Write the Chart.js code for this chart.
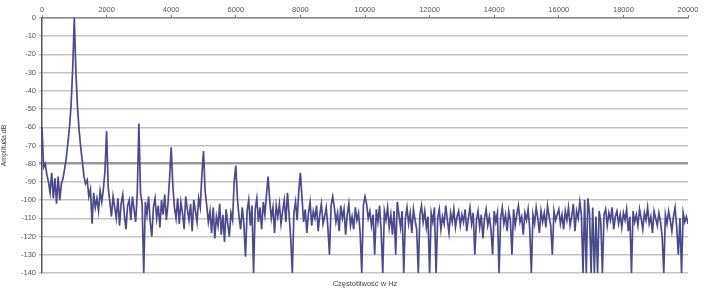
<!DOCTYPE html>
<html><head><meta charset="utf-8">
<script src="https://cdn.jsdelivr.net/npm/chart.js@4.4.1/dist/chart.umd.min.js"></script>
<style>html,body{margin:0;padding:0;background:#fff;}#wrap{width:705px;height:288px;}</style>
</head><body><div id="wrap"><canvas id="c" width="705" height="288"></canvas></div>
<script>
const freqStep = 50;
const levels = [
-60,-82,-80,-86,-90,-96,-85,-99,-88,-102,-87,-100,-91,-88,-83,-77,-69,-60,-48,-28,
0,-30,-49,-62,-71,-79,-87,-91,-89,-98,-94,-113,-96,-104,-99,-106,-95,-101,-94,-84,
-62,-93,-101,-109,-98,-104,-110,-99,-114,-102,-97,-108,-116,-103,-100,-111,-98,-105,-112,-96,
-58,-96,-102,-140,-101,-108,-98,-112,-120,-104,-99,-110,-103,-115,-100,-108,-97,-111,-102,-88,
-71,-92,-104,-110,-99,-113,-101,-107,-116,-98,-105,-111,-102,-117,-100,-106,-112,-99,-104,-86,
-73,-95,-103,-112,-106,-118,-104,-121,-109,-114,-102,-119,-108,-123,-105,-113,-120,-107,-111,-90,
-81,-99,-109,-116,-104,-113,-131,-106,-100,-114,-103,-140,-105,-99,-112,-104,-116,-101,-108,-97,
-87,-100,-110,-104,-118,-103,-109,-102,-113,-106,-100,-112,-96,-108,-121,-140,-107,-101,-111,-95,
-85,-99,-112,-105,-118,-107,-101,-114,-106,-110,-103,-117,-108,-102,-113,-109,-104,-115,-130,-103,
-98,-104,-112,-107,-117,-103,-110,-105,-119,-108,-102,-114,-109,-116,-104,-111,-107,-118,-140,-103,
-98,-102,-110,-106,-114,-108,-130,-105,-112,-103,-117,-140,-106,-111,-104,-115,-108,-119,-106,-130,
-101,-108,-115,-106,-140,-110,-104,-113,-107,-118,-105,-111,-116,-140,-108,-103,-112,-106,-115,-109,
-140,-107,-112,-104,-140,-110,-105,-116,-109,-113,-103,-111,-118,-107,-112,-105,-115,-109,-106,-114,
-108,-112,-105,-117,-110,-104,-113,-107,-130,-111,-106,-115,-108,-121,-110,-105,-114,-109,-116,-130,
-106,-112,-107,-140,-110,-104,-113,-108,-117,-106,-111,-130,-105,-114,-108,-103,-112,-109,-119,-107,
-111,-105,-116,-140,-108,-113,-104,-110,-118,-106,-112,-107,-115,-103,-109,-114,-130,-106,-111,-108,
-105,-113,-108,-116,-106,-111,-104,-114,-109,-102,-117,-106,-110,-101,-108,-140,-100,-140,-99,-107,
-140,-104,-140,-109,-140,-106,-112,-140,-108,-105,-114,-107,-111,-104,-116,-109,-106,-113,-108,-115,
-107,-111,-105,-117,-109,-140,-106,-112,-108,-114,-105,-110,-116,-107,-111,-104,-113,-109,-118,-106,
-110,-114,-107,-112,-120,-140,-108,-113,-106,-111,-117,-109,-104,-115,-130,-110,-140,-107,-112,-109,
-113
];
const freqs = levels.map((v, i) => i * freqStep);
const xTicks = [0,2000,4000,6000,8000,10000,12000,14000,16000,18000,20000];
const yTicks = [0,-10,-20,-30,-40,-50,-60,-70,-80,-90,-100,-110,-120,-130,-140];
const xTitle = 'Częstotliwość w Hz';
const yTitle = 'Amplituda dB';

const points = freqs.map((f, i) => ({x: f, y: levels[i]}));
const font = {family: 'Liberation Sans, Arial, sans-serif', size: 7.5};

new Chart(document.getElementById('c'), {
  type: 'line',
  data: { datasets: [{ data: points, borderColor: '#4a4a8e', borderWidth: 1.7, pointRadius: 0, tension: 0, fill: false }] },
  options: {
    responsive: false, animation: false,
    layout: { padding: { left: 0, right: 17, top: 0, bottom: 0 } },
    plugins: { legend: { display: false }, tooltip: { enabled: false } },
    scales: {
      x: {
        type: 'linear', position: 'top', min: 0, max: 20000,
        afterBuildTicks: s => { s.ticks = xTicks.map(v => ({value: v})); },
        afterFit: s => { s.height = 18; },
        ticks: { font, color: '#555', padding: 1, maxRotation: 0, callback: v => String(v) },
        grid: { drawOnChartArea: false, drawTicks: true, tickLength: 3, color: '#777' },
        border: { display: true, color: '#888', width: 1.5 }
      },
      x2: {
        type: 'linear', position: 'bottom', min: 0, max: 20000,
        afterFit: s => { s.height = 15; },
        ticks: { display: false },
        grid: { display: false },
        border: { display: false },
        title: { display: true, text: xTitle, font, color: '#444', padding: 0 }
      },
      y: {
        min: -140, max: 0,
        afterBuildTicks: s => { s.ticks = yTicks.map(v => ({value: v})); },
        afterFit: s => { s.width = 42; },
        ticks: { font, color: '#555', padding: 3, callback: v => String(v) },
        grid: {
          color: c => (c.tick && c.tick.value === -80) ? '#9a9a9a' : '#c4c4c4',
          lineWidth: c => (c.tick && c.tick.value === -80) ? 2.5 : 1.5,
          drawTicks: true, tickLength: 3
        },
        border: { display: true, color: '#555', width: 1.5 },
        title: { display: true, text: yTitle, font: {family: font.family, size: 7}, color: '#444', padding: 0 }
      }
    }
  }
});
</script></body></html>
